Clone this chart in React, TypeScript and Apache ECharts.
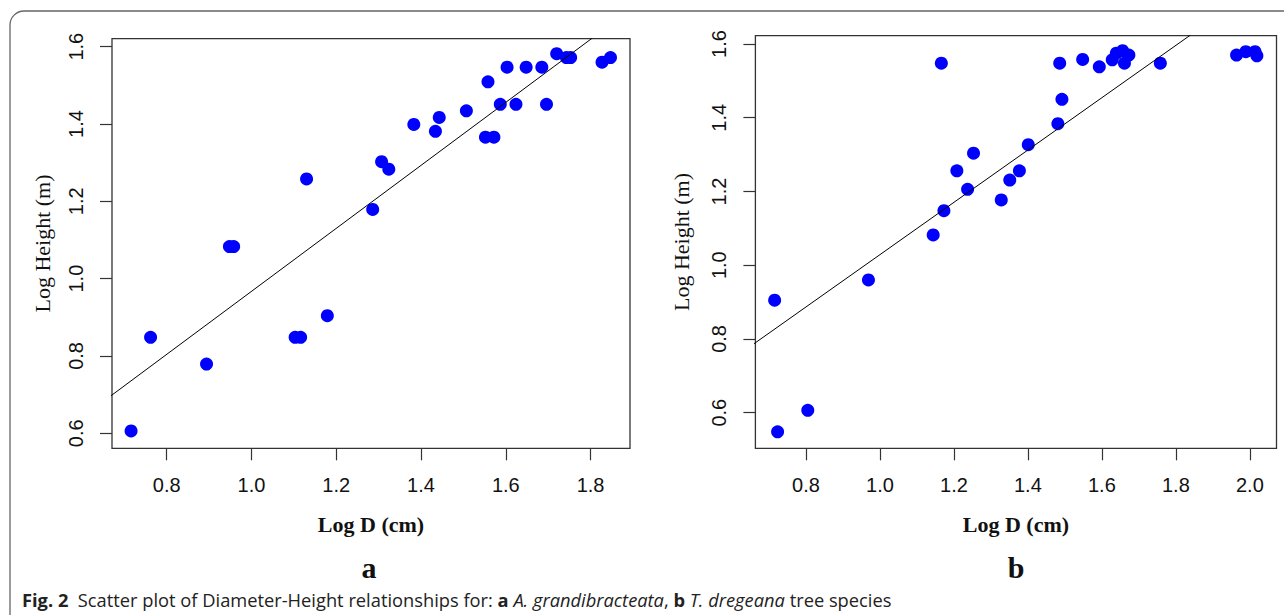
import React, { useEffect, useRef } from "react";
import * as echarts from "echarts";

// ---- Data ----
const xTicksA = [0.8, 1.0, 1.2, 1.4, 1.6, 1.8];
const xTicksB = [0.8, 1.0, 1.2, 1.4, 1.6, 1.8, 2.0];
const yTicks = [0.6, 0.8, 1.0, 1.2, 1.4, 1.6];

// Panel a: A. grandibracteata (Log D, Log Height)
const logDA = [0.948, 0.958, 1.13, 1.286, 1.307, 1.324, 1.383, 1.434, 1.443, 1.507, 1.552, 1.572, 1.558, 1.587, 1.603, 1.624, 1.648, 1.685, 1.696, 1.72, 1.743, 1.753, 1.827, 1.847, 0.716, 0.762, 0.894, 1.103, 1.116, 1.179];
const logHA = [1.083, 1.083, 1.258, 1.179, 1.3025, 1.283, 1.399, 1.381, 1.417, 1.434, 1.366, 1.366, 1.509, 1.451, 1.547, 1.451, 1.547, 1.547, 1.451, 1.582, 1.572, 1.572, 1.56, 1.572, 0.606, 0.848, 0.779, 0.848, 0.848, 0.904];

// Panel b: T. dregeana
const logDB = [1.166, 1.486, 1.548, 1.593, 1.628, 1.639, 1.656, 1.661, 1.673, 1.758, 1.964, 1.989, 2.014, 2.019, 1.492, 1.481, 1.401, 1.253, 1.208, 1.377, 1.351, 1.237, 1.328, 1.173, 1.144, 0.969, 0.7154, 0.7234, 0.805];
const logHB = [1.548, 1.548, 1.558, 1.538, 1.557, 1.575, 1.582, 1.548, 1.57, 1.548, 1.57, 1.579, 1.579, 1.568, 1.45, 1.384, 1.327, 1.304, 1.256, 1.256, 1.231, 1.206, 1.177, 1.148, 1.082, 0.96, 0.905, 0.548, 0.6065];

// Fitted regression lines (intercept, slope)
const fitA = [0.152, 0.815];
const fitB = [0.319, 0.7096];

// Axis ranges
const rangeXA = [0.671, 1.893];
const rangeYA = [0.561, 1.6207];
const rangeXB = [0.6634, 2.072];
const rangeYB = [0.5034, 1.6225];

const xTitle = "Log D (cm)";
const yTitle = "Log Height (m)";

const SANS = "'Liberation Sans', Arial, sans-serif";
const SERIF = "'Liberation Serif', 'Times New Roman', serif";

function pairs(xs: number[], ys: number[]) {
  return xs.map((x, i) => [x, ys[i]]);
}
function fitLine(fit: number[], range: number[]) {
  return [range[0] - 0.05, range[1] + 0.05].map((x) => [x, fit[0] + fit[1] * x]);
}

function xAxisCfg(idx: number, range: number[], ticks: number[]) {
  return {
    type: "value",
    gridIndex: idx,
    min: range[0],
    max: range[1],
    splitLine: { show: false },
    axisLine: { show: false },
    axisTick: { show: true, length: 12, customValues: ticks, lineStyle: { color: "#333", width: 1.2 } },
    axisLabel: {
      customValues: ticks,
      formatter: (v: number) => v.toFixed(1),
      fontFamily: SANS,
      fontSize: 20,
      color: "#111",
      margin: 27,
    },
    name: xTitle,
    nameLocation: "middle",
    nameGap: 65,
    nameTextStyle: { fontFamily: SERIF, fontWeight: "bold", fontSize: 22, color: "#111" },
  };
}
function yAxisCfg(idx: number, range: number[], gap: number) {
  return {
    type: "value",
    gridIndex: idx,
    min: range[0],
    max: range[1],
    splitLine: { show: false },
    axisLine: { show: false },
    axisTick: { show: true, length: 12, customValues: yTicks, lineStyle: { color: "#333", width: 1.2 } },
    axisLabel: {
      customValues: yTicks,
      formatter: (v: number) => v.toFixed(1),
      rotate: 90,
      fontFamily: SANS,
      fontSize: 20,
      color: "#111",
      margin: 26,
    },
    name: yTitle,
    nameLocation: "middle",
    nameGap: gap,
    nameRotate: 90,
    nameTextStyle: { fontFamily: SERIF, fontSize: 22, color: "#111" },
  };
}

export default function App() {
  const ref = useRef<HTMLDivElement>(null);
  useEffect(() => {
    document.body.style.margin = "0";
    document.body.style.overflow = "hidden";
    const chart = echarts.init(ref.current!, null, { renderer: "svg" });
    const caption =
      "{fb|Fig. 2}  {n|Scatter plot of Diameter-Height relationships for: }{nb|a}{n| }{i|A. grandibracteata}{n|, }{nb|b}{n| }{i|T. dregeana}{n| tree species}";
    const capBase = { fontFamily: "'Open Sans', 'Noto Sans', sans-serif", fontSize: 18.3, fill: "#222" };
    chart.setOption({
      animation: false,
      backgroundColor: "#fff",
      grid: [
        { left: 112, top: 38.7, width: 518, height: 409.6, show: true, borderColor: "#333", borderWidth: 1.3, containLabel: false, outerBoundsMode: "none" },
        { left: 755.4, top: 35.7, width: 521.1, height: 412.6, show: true, borderColor: "#333", borderWidth: 1.3, containLabel: false, outerBoundsMode: "none" },
      ],
      xAxis: [xAxisCfg(0, rangeXA, xTicksA), xAxisCfg(1, rangeXB, xTicksB)],
      yAxis: [yAxisCfg(0, rangeYA, 59), yAxisCfg(1, rangeYB, 63)],
      series: [
        {
          type: "line",
          xAxisIndex: 0,
          yAxisIndex: 0,
          data: fitLine(fitA, rangeXA),
          showSymbol: false,
          clip: true,
          lineStyle: { color: "#000", width: 1 },
        },
        {
          type: "line",
          xAxisIndex: 1,
          yAxisIndex: 1,
          data: fitLine(fitB, rangeXB),
          showSymbol: false,
          clip: true,
          lineStyle: { color: "#000", width: 1 },
        },
        {
          type: "scatter",
          xAxisIndex: 0,
          yAxisIndex: 0,
          data: pairs(logDA, logHA),
          symbol: "circle",
          symbolSize: 13,
          itemStyle: { color: "#0000ff", opacity: 1 },
        },
        {
          type: "scatter",
          xAxisIndex: 1,
          yAxisIndex: 1,
          data: pairs(logDB, logHB),
          symbol: "circle",
          symbolSize: 13,
          itemStyle: { color: "#0000ff", opacity: 1 },
        },
      ],
      graphic: [
        {
          type: "rect",
          shape: { x: 10, y: 11, width: 1400, height: 700, r: 14 },
          style: { fill: "none", stroke: "#666", lineWidth: 1.3 },
          silent: true,
        },
        {
          type: "text",
          x: 369,
          y: 567,
          style: { text: "a", fontFamily: SERIF, fontWeight: "bold", fontSize: 30, fill: "#111", align: "center", verticalAlign: "middle" },
        },
        {
          type: "text",
          x: 1016,
          y: 567,
          style: { text: "b", fontFamily: SERIF, fontWeight: "bold", fontSize: 30, fill: "#111", align: "center", verticalAlign: "middle" },
        },
        {
          type: "text",
          x: 22,
          y: 599,
          style: {
            text: caption,
            verticalAlign: "middle",
            align: "left",
            ...capBase,
            rich: {
              fb: { ...capBase, fontWeight: "bold" },
              nb: { ...capBase, fontWeight: "bold" },
              n: { ...capBase },
              i: { ...capBase, fontStyle: "italic" },
            },
          },
        },
      ],
    });
    return () => chart.dispose();
  }, []);
  return <div ref={ref} style={{ width: 1284, height: 615 }} />;
}
